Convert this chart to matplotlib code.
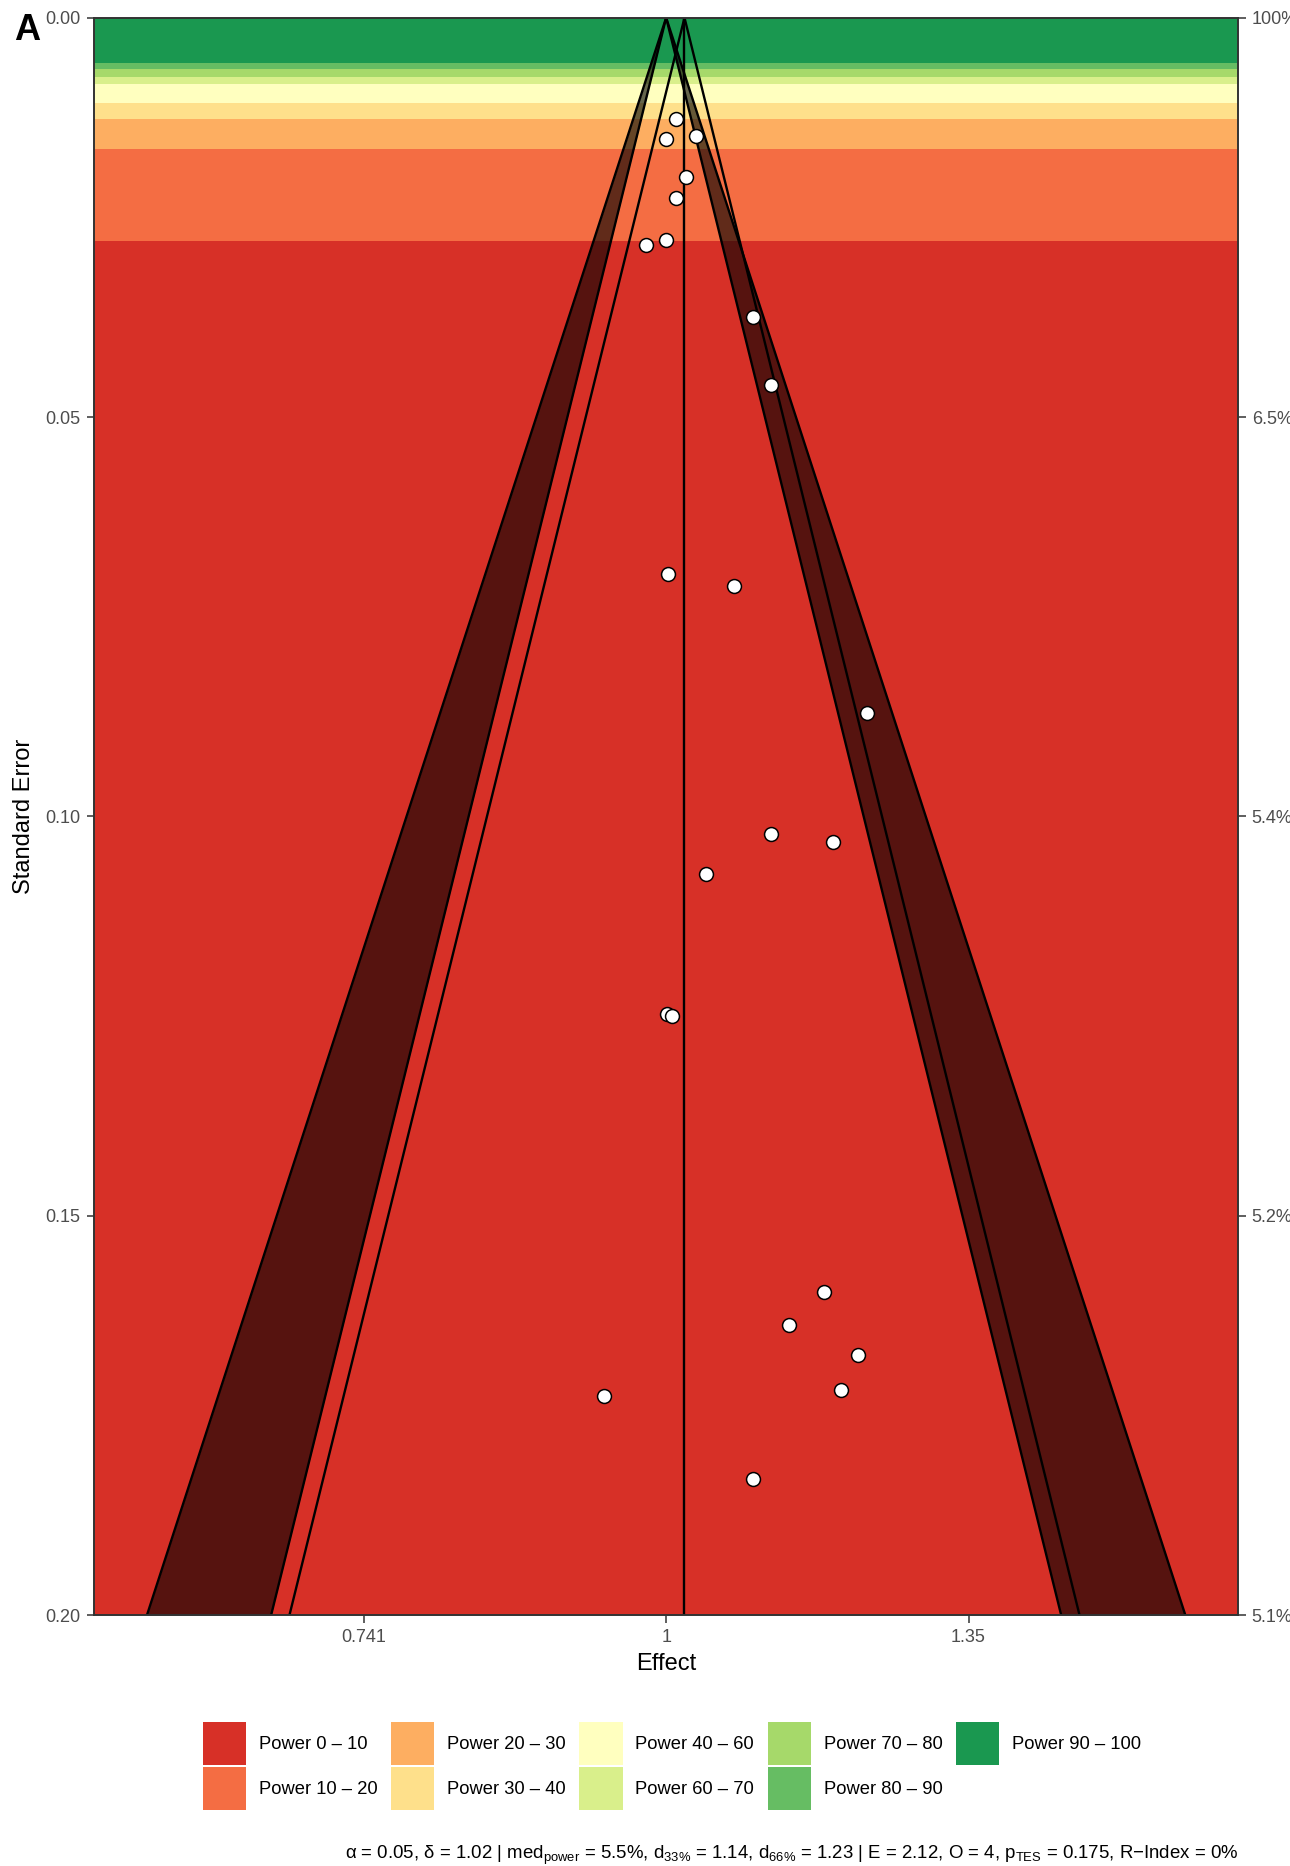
import numpy as np
import matplotlib
matplotlib.use("Agg")
import matplotlib.pyplot as plt
from matplotlib.patches import Patch

plt.rcParams["font.family"] = ["Liberation Sans", "DejaVu Sans"]
plt.rcParams["mathtext.fontset"] = "custom"
plt.rcParams["mathtext.rm"] = "Liberation Sans"
plt.rcParams["mathtext.it"] = "Liberation Sans:italic"

# study estimates (log effect) and their standard errors
log_effect = [0.0099, 0.0, 0.0295, 0.0198, 0.0099, 0.0, -0.0201,
              0.0860, 0.1042, 0.0023, 0.0675, 0.1991, 0.1042, 0.1654,
              0.0394, 0.0007, 0.0056, 0.1571, 0.1223, 0.1905, 0.1739,
              -0.0618, 0.0860]
std_err = [0.01265, 0.01523, 0.01481, 0.01995, 0.02258, 0.02787, 0.02846,
           0.03744, 0.04600, 0.06962, 0.07112, 0.08703, 0.10226, 0.10322,
           0.10719, 0.12479, 0.12504, 0.15960, 0.16370, 0.16750, 0.17188,
           0.17259, 0.18302]

summary_effect = 0.0182
z_95 = 1.96
z_99 = 2.576
se_max = 0.2

# power bands, lowest power first (SE lower/upper edge)
power_names = ["Power 0 – 10", "Power 10 – 20", "Power 20 – 30", "Power 30 – 40",
               "Power 40 – 60", "Power 60 – 70", "Power 70 – 80", "Power 80 – 90",
               "Power 90 – 100"]
power_colors = ["#D73027", "#F46D43", "#FDAE61", "#FEE08B", "#FFFFBF",
                "#D9EF8B", "#A6D96A", "#66BD63", "#1A9850"]
band_edges = [0.2, 0.02792, 0.01640, 0.01264, 0.01068, 0.00826, 0.00739,
              0.00638, 0.00563, 0.0]

x_tick_values = [0.741, 1, 1.35]
x_tick_labels = ["0.741", "1", "1.35"]
y_ticks = [0.0, 0.05, 0.10, 0.15, 0.20]
y_tick_labels = ["0.00", "0.05", "0.10", "0.15", "0.20"]
power_tick_labels = ["100%", "6.5%", "5.4%", "5.2%", "5.1%"]

footer = ("α = 0.05, δ = 1.02 | med$_{\\mathregular{power}}$ = 5.5%, "
          "d$_{\\mathregular{33\\%}}$ = 1.14, d$_{\\mathregular{66\\%}}$ = 1.23 | "
          "E = 2.12, O = 4, p$_{\\mathregular{TES}}$ = 0.175, R−Index = 0%")

W, H = 1290, 1866
fig = plt.figure(figsize=(W / 100, H / 100), dpi=100)
ax = fig.add_axes([94.3 / W, 1 - 1615 / H, (1238 - 94.3) / W, (1615 - 17.7) / H])

# power bands
for i, col in enumerate(power_colors):
    ax.axhspan(band_edges[i + 1], band_edges[i], color=col, lw=0, zorder=0)

se_line = np.array([0.0, se_max])

# significance contours
ax.fill_betweenx(se_line, -z_99 * se_line, -z_95 * se_line, color="black", alpha=0.6, lw=0, zorder=1)
ax.fill_betweenx(se_line, z_95 * se_line, z_99 * se_line, color="black", alpha=0.6, lw=0, zorder=1)
for z in (z_95, z_99):
    ax.plot(-z * se_line, se_line, color="black", lw=1.7, zorder=2)
    ax.plot(z * se_line, se_line, color="black", lw=1.7, zorder=2)

# funnel around summary effect
ax.plot(summary_effect - z_95 * se_line, se_line, color="black", lw=1.7, zorder=2)
ax.plot(summary_effect + z_95 * se_line, se_line, color="black", lw=1.7, zorder=2)
ax.axvline(summary_effect, color="black", lw=1.7, zorder=2)

ax.scatter(log_effect, std_err, s=100, facecolor="white", edgecolor="black",
           linewidth=1.1, zorder=3)

ax.set_xlim(-0.5675, 0.5675)
ax.set_ylim(se_max, 0)
ax.set_xticks(np.log(x_tick_values))
ax.set_xticklabels(x_tick_labels)
ax.set_yticks(y_ticks)
ax.set_yticklabels(y_tick_labels)

for sp in ax.spines.values():
    sp.set_color("#333333")
    sp.set_linewidth(1.4)
ax.tick_params(axis="both", length=5.4, width=1.1, color="#333333",
               labelcolor="#4D4D4D", labelsize=13)
ax.tick_params(axis="y", pad=4.5)
ax.tick_params(axis="x", pad=4.8)

ax2 = ax.twinx()
ax2.set_ylim(se_max, 0)
ax2.set_yticks(y_ticks)
ax2.set_yticklabels(power_tick_labels)
ax2.tick_params(axis="y", length=5.4, width=1.1, color="#333333",
                labelcolor="#4D4D4D", labelsize=13, pad=4.5)
for sp in ax2.spines.values():
    sp.set_visible(False)

fig.text(24 / W, 1 - 816 / H, "Standard Error", rotation=90, ha="center", va="center", fontsize=17)
fig.text(666 / W, 1 - 1664 / H, "Effect", ha="center", va="center", fontsize=17)
fig.text(14 / W, 1 - 31 / H, "A", ha="left", va="center", fontsize=26, fontweight="bold")

handles = [Patch(facecolor=c, edgecolor="none", label=n) for c, n in zip(power_colors, power_names)]
fig.legend(handles=handles, loc="center", bbox_to_anchor=(672 / W, 1 - 1766 / H), ncol=5,
           frameon=False, fontsize=13.2, handlelength=2.35, handleheight=3.25,
           handletextpad=0.7, columnspacing=0.75, labelspacing=0.12, borderpad=0)

fig.text(1238 / W, 1 - 1855 / H, footer, ha="right", va="center", fontsize=13.4)

fig.savefig("out.png", dpi=100)
